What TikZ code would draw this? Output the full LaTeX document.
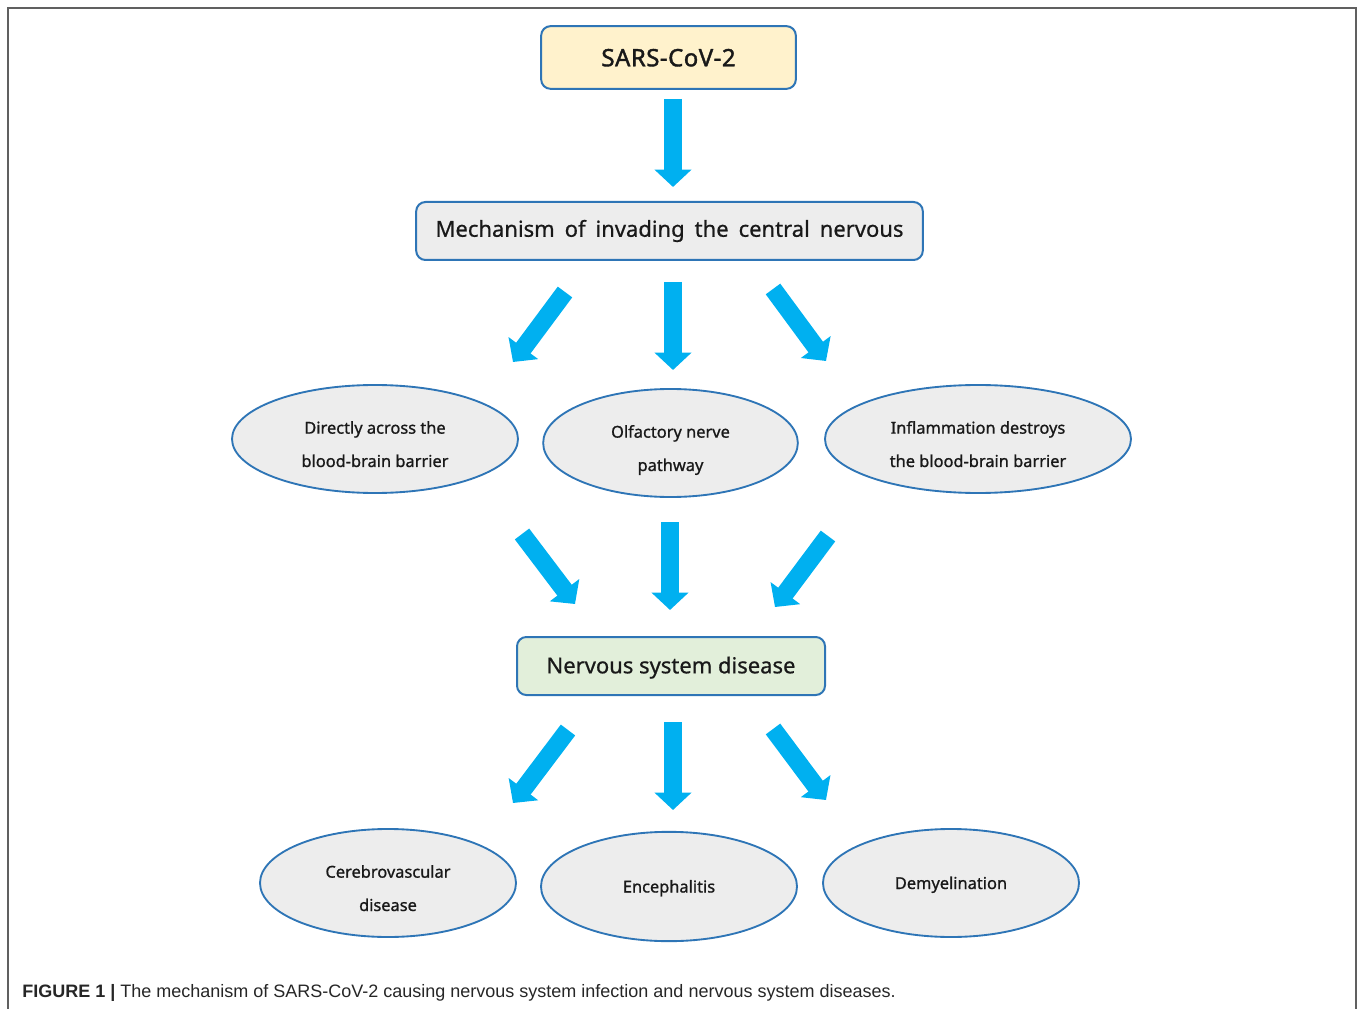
\documentclass[tikz,border=0pt]{standalone}
\usepackage{fontspec}
\setmainfont{Noto Sans}
\newfontfamily\diafont{Noto Sans}[FakeBold=0.7]
\newfontfamily\ovalfont{Noto Sans}[FakeBold=1.0]
\newfontfamily\diabold{Noto Sans}[FakeBold=1.6,LetterSpace=2]
\newfontfamily\capfont{Liberation Sans}
\usetikzlibrary{shapes.geometric,arrows.meta,calc}
\definecolor{arrowblue}{HTML}{00B0F0}
\definecolor{edgeblue}{HTML}{2E75B6}
\definecolor{boxgray}{HTML}{EDEDED}
\definecolor{boxyellow}{HTML}{FFF2CC}
\definecolor{boxgreen}{HTML}{E2EFDA}
\definecolor{framegray}{HTML}{606060}
\newcommand{\twolines}[2]{\raisebox{-6.5pt}[0pt][0pt]{\begin{tabular}{@{}c@{}}#1\\#2\end{tabular}}}
\newcommand{\oneline}[2][4pt]{\raisebox{-#1}[0pt][0pt]{#2}}
\tikzset{
  rbox/.style={draw=edgeblue, line width=1.5pt, rounded corners=7pt, inner sep=0pt, text=black!90},
  ovalbox/.style={ellipse, draw=edgeblue, line width=1.4pt, fill=boxgray, inner sep=0pt, font=\ovalfont\fontsize{12.3}{25}\selectfont, text=black!90},
  fatarrow/.style={draw=arrowblue, line width=13.5pt, -{Triangle[width=27pt,length=13pt]}},
}
\begin{document}
\begin{tikzpicture}[x=0.75pt,y=-0.75pt]
\useasboundingbox (0,0) rectangle (1357,1009);
% frame
\draw[framegray, line width=1.2pt] (8,1009) -- (8,8) -- (1356,8) -- (1356,1009);

% nodes
\node[rbox, fill=boxyellow, minimum width=191pt, minimum height=47pt, font=\diabold\fontsize{18}{20}\selectfont] (sars) at (668.5,57.5) {\oneline[6.6pt]{SARS-CoV-2}};
\node[rbox, fill=boxgray, minimum width=380pt, minimum height=43.5pt, font=\diafont\fontsize{16.5}{20}\selectfont] (mech) at (669.5,231) {\makebox[351pt][s]{Mechanism of invading the central nervous}};
\node[ovalbox, minimum width=214.5pt, minimum height=81pt] (e1) at (375,439) {\twolines{Directly across the}{blood-brain barrier}};
\node[ovalbox, minimum width=191pt, minimum height=81pt] (e2) at (670.5,443) {\twolines{Olfactory nerve}{pathway}};
\node[ovalbox, minimum width=229.5pt, minimum height=81pt] (e3) at (978,439) {\twolines{Inflammation destroys}{the blood-brain barrier}};
\node[rbox, fill=boxgreen, minimum width=231pt, minimum height=43.5pt, font=\diafont\fontsize{16.5}{20}\selectfont] (nerv) at (671,666) {\oneline[5.5pt]{Nervous system disease}};
\node[ovalbox, minimum width=192pt, minimum height=81pt] (f1) at (388,883) {\twolines{Cerebrovascular}{disease}};
\node[ovalbox, minimum width=192pt, minimum height=82pt] (f2) at (669,886.5) {\oneline[4.5pt]{Encephalitis}};
\node[ovalbox, minimum width=192pt, minimum height=81pt] (f3) at (951,883) {\oneline[4.5pt]{Demyelination}};

% arrows
\draw[fatarrow] ($(sars)+(4.5,41.5)$) -- ($(mech)+(3.5,-44)$);
\draw[fatarrow] ($(mech)+(-104.5,61)$) -- ($(e1)+(138,-77)$);
\draw[fatarrow] ($(mech)+(3.5,51)$) -- ($(e2)+(2.5,-73)$);
\draw[fatarrow] ($(mech)+(103.5,58)$) -- ($(e3)+(-152,-78)$);
\draw[fatarrow] ($(e1)+(147,95)$) -- ($(nerv)+(-96,-62)$);
\draw[fatarrow] ($(e2)+(-0.5,79)$) -- ($(nerv)+(-1,-56)$);
\draw[fatarrow] ($(e3)+(-150,97)$) -- ($(nerv)+(104,-59)$);
\draw[fatarrow] ($(nerv)+(-103,64)$) -- ($(f1)+(125,-80)$);
\draw[fatarrow] ($(nerv)+(2,56)$) -- ($(f2)+(4,-76.5)$);
\draw[fatarrow] ($(nerv)+(102,63)$) -- ($(f3)+(-125,-83)$);

% caption
\node[anchor=base west, inner sep=0pt, font=\capfont\fontsize{13.5}{16}\selectfont, text=black!85] (cap) at (22,997) {\textbf{FIGURE 1 |} The mechanism of SARS-CoV-2 causing nervous system infection and nervous system diseases.};
\end{tikzpicture}
\end{document}
